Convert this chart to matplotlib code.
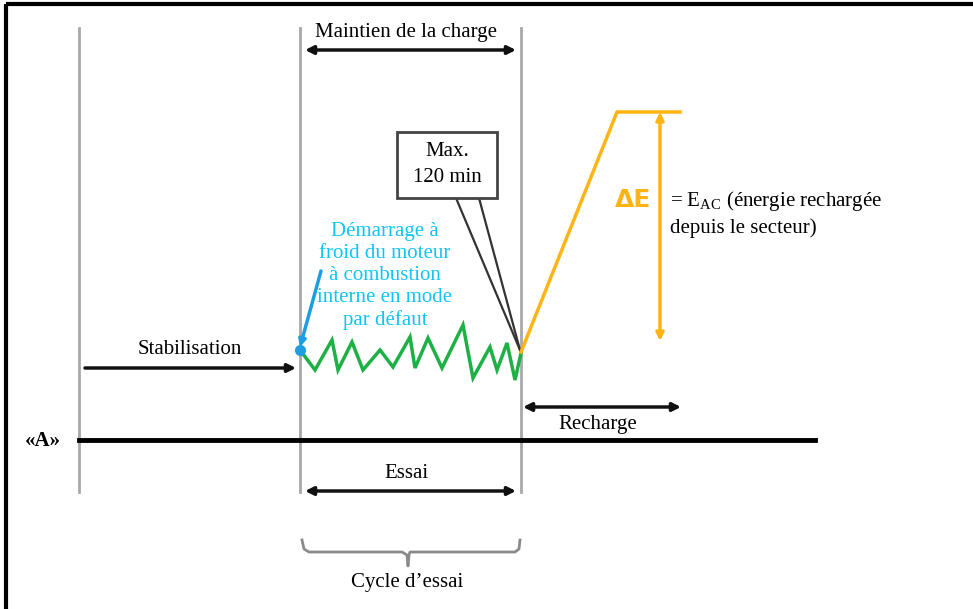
import matplotlib.pyplot as plt
from matplotlib.patches import Rectangle
import matplotlib as mpl

mpl.rcParams['font.family'] = ['Liberation Serif', 'DejaVu Serif']
mpl.rcParams['mathtext.fontset'] = 'custom'
mpl.rcParams['mathtext.rm'] = 'Liberation Serif'

FS = 15

# vertical phase markers (x positions, px)
phase_x = [79, 300, 521]

# green zigzag (battery state during the test)
zig_x = [300, 315, 332, 338, 352, 363, 380, 393, 410, 415, 428, 442, 463, 473, 490, 497, 507, 515, 521]
zig_y = [350, 370, 340, 370, 342, 370, 350, 367, 337, 368, 338, 368, 325, 378, 347, 370, 343, 380, 353]

# orange recharge curve
rech_x = [521, 617, 680]
rech_y = [352, 112, 112]

# callout box "Max. 120 min"
box = [397, 132, 100, 66]
pointer_x = [[456, 520], [479, 520]]
pointer_y = [[198, 350], [198, 350]]

# brace under the test cycle
brace_x = [302, 304, 309, 402, 407, 408, 409, 410, 415, 515, 519, 520]
brace_y = [540, 549, 552, 552, 555, 566, 555, 552, 552, 552, 549, 540]

fig = plt.figure(figsize=(9.73, 6.09), dpi=100)
ax = fig.add_axes([0, 0, 1, 1])
ax.set_xlim(0, 973)
ax.set_ylim(609, 0)
ax.axis('off')

# frame (top and left)
ax.plot([6, 973], [4, 4], color='black', lw=3, solid_capstyle='butt')
ax.plot([6, 6], [4, 609], color='black', lw=3, solid_capstyle='butt')

for x in phase_x:
    ax.plot([x, x], [28, 492], color='#a8a8a8', lw=2)

# baseline "A"
ax.plot([79, 815], [440, 440], color='black', lw=3.5)
ax.text(43, 441, '«A»', ha='center', va='center', fontsize=FS, fontweight='bold')

def dbl_arrow(x0, x1, y, style='<|-|>'):
    ax.annotate('', xy=(x1, y), xytext=(x0, y),
                arrowprops=dict(arrowstyle=style, color='#111111', lw=2.5,
                                mutation_scale=12, shrinkA=0, shrinkB=0))

dbl_arrow(305, 516, 50)
ax.text(406, 33, 'Maintien de la charge', ha='center', va='center', fontsize=FS)

dbl_arrow(85, 296, 368, style='-|>')
ax.text(190, 349, 'Stabilisation', ha='center', va='center', fontsize=FS)

dbl_arrow(523, 681, 407)
ax.text(598, 425, 'Recharge', ha='center', va='center', fontsize=FS)

dbl_arrow(305, 516, 491)
ax.text(406, 474, 'Essai', ha='center', va='center', fontsize=FS)

ax.plot(brace_x, brace_y, color='#8a8a8a', lw=2)
ax.text(407, 582, 'Cycle d’essai', ha='center', va='center', fontsize=FS)

# zigzag
ax.plot(zig_x, zig_y, color='#1db045', lw=2.5, solid_joinstyle='miter')

# cold start marker
ax.annotate('', xy=(300, 347), xytext=(321, 271),
            arrowprops=dict(arrowstyle='-|>', color='#1e9ee0', lw=2.5,
                            mutation_scale=10, shrinkA=0, shrinkB=0))
ax.plot([300], [350], 'o', color='#1e9ee0', ms=7)
ax.text(385, 276, 'Démarrage à\nfroid du moteur\nà combustion\ninterne en mode\npar défaut',
        ha='center', va='center', fontsize=FS, color='#10c4f4', linespacing=1.22)

# callout
ax.add_patch(Rectangle((box[0], box[1]), box[2], box[3], facecolor='white',
                       edgecolor='#444444', lw=2, zorder=3))
for px, py in zip(pointer_x, pointer_y):
    ax.plot(px, py, color='#333333', lw=1.6, zorder=2)
ax.text(447, 165, 'Max.\n120 min', ha='center', va='center', fontsize=FS,
        linespacing=1.5, zorder=4)

# recharge
ax.plot(rech_x, rech_y, color='#ffb414', lw=2.5)
ax.annotate('', xy=(660, 112), xytext=(660, 341),
            arrowprops=dict(arrowstyle='<|-|>', color='#ffb414', lw=2.5,
                            mutation_scale=11, shrinkA=0, shrinkB=0))
ax.text(633, 200, 'ΔE', ha='center', va='center', fontsize=18, fontweight='bold',
        color='#ffb414', family='DejaVu Sans')
ax.text(670, 201, r'= E$_{\mathrm{AC}}$ (énergie rechargée', ha='left', va='center', fontsize=FS)
ax.text(670, 228, 'depuis le secteur)', ha='left', va='center', fontsize=FS)

fig.savefig('out.png', dpi=100)
